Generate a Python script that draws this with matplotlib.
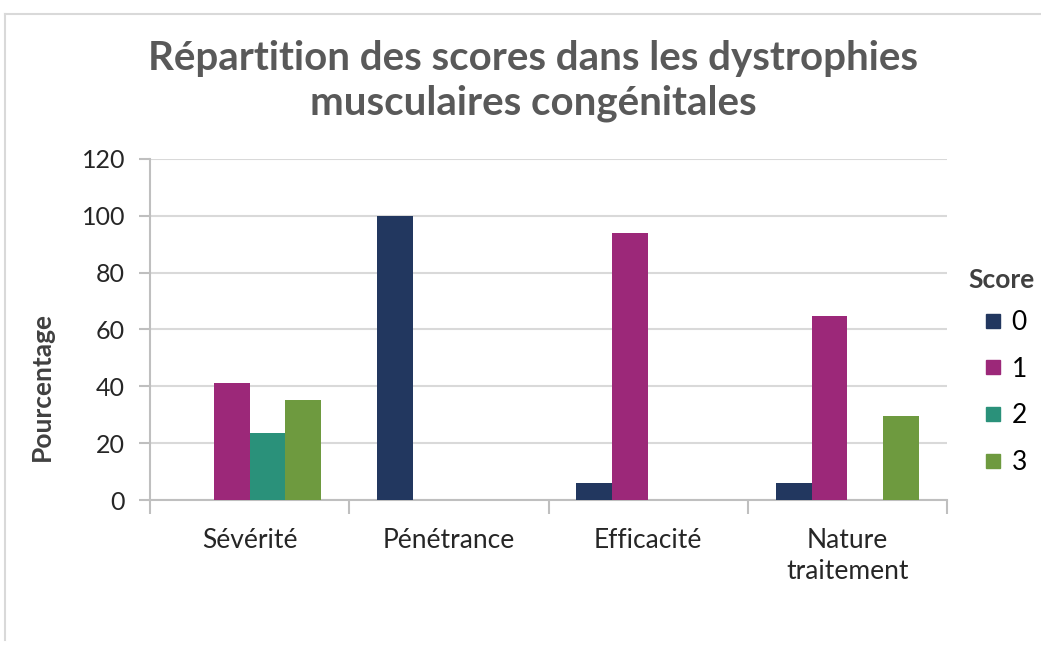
import numpy as np
import matplotlib.pyplot as plt
from matplotlib.lines import Line2D

categories = ['Sévérité', 'Pénétrance', 'Efficacité', 'Nature\ntraitement']
scores = ['0', '1', '2', '3']
score0 = [0, 100, 5.9, 5.9]
score1 = [41.2, 0, 94.1, 64.7]
score2 = [23.5, 0, 0, 0]
score3 = [35.3, 0, 0, 29.4]
colors = ['#22375F', '#9C2879', '#2A917A', '#6E9A3F']

plt.rcParams['font.family'] = ['Lato', 'DejaVu Sans']

fig = plt.figure(figsize=(10.41, 6.46), dpi=100)
ax = fig.add_axes([0.1441, 0.226, 0.7656, 0.5279])

x = np.arange(len(categories))
w = 0.18
series = [score0, score1, score2, score3]
for i, vals in enumerate(series):
    ax.bar(x + (i - 1.5) * w, vals, w, color=colors[i], label=scores[i], zorder=3)

ax.set_xlim(-0.5, len(categories) - 0.5)
ax.set_ylim(0, 120)
ax.set_yticks(range(0, 121, 20))
ax.yaxis.grid(True, color='#D9D9D9', lw=1.5, zorder=0)
ax.set_xticks(x)
ax.set_xticklabels(categories, fontsize=19, color='#262626', linespacing=1.3)
ax.set_xticks(np.arange(-0.5, len(categories), 1), minor=True)
ax.tick_params(axis='x', which='major', length=0, pad=20)
ax.tick_params(axis='x', which='minor', length=10, color='#BFBFBF', width=1.5)
ax.tick_params(axis='y', length=8, color='#BFBFBF', width=1.5, pad=10,
               labelsize=18, labelcolor='#262626')
for s in ['top', 'right']:
    ax.spines[s].set_visible(False)
for s in ['left', 'bottom']:
    ax.spines[s].set_color('#BFBFBF')
    ax.spines[s].set_linewidth(1.5)

ax.set_ylabel('Pourcentage', fontsize=19, fontweight='bold', color='#404040')
ax.yaxis.set_label_coords(-0.12, 0.334)

fig.text(0.512, 0.875, 'Répartition des scores dans les dystrophies\nmusculaires congénitales',
         ha='center', va='center', fontsize=29, fontweight='bold', color='#595959',
         linespacing=1.25)

# legend: title placed separately so the markers sit indented like Excel
fig.text(968 / 1041, 1 - 280 / 646, 'Score', ha='left', va='center',
         fontsize=19, fontweight='bold', color='#404040')
handles = [Line2D([], [], marker='s', ls='', markersize=10, color=c) for c in colors]
leg = fig.legend(handles, scores, loc='upper left', bbox_to_anchor=(984 / 1041, 1 - 310 / 646),
                 frameon=False, fontsize=19, handlelength=0.7,
                 handletextpad=0.35, labelspacing=0.82,
                 borderaxespad=0, borderpad=0)

# chart border
fig.add_artist(Line2D([5 / 1041, 5 / 1041], [0.01, 1 - 14 / 646], color='#D9D9D9', lw=1.5))
fig.add_artist(Line2D([5 / 1041, 1.0], [1 - 14 / 646, 1 - 14 / 646], color='#D9D9D9', lw=1.5))

fig.savefig('out.png', dpi=100)
